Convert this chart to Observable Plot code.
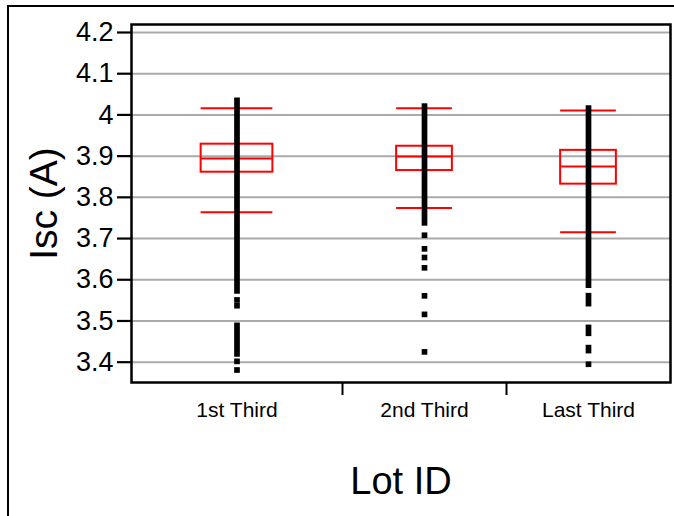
<!DOCTYPE html>
<html><head><meta charset="utf-8">
<script src="https://cdn.jsdelivr.net/npm/d3@7"></script>
<script src="https://cdn.jsdelivr.net/npm/@observablehq/plot@0.6"></script>
<style>
html,body{margin:0;padding:0;background:#fff;overflow:hidden;width:674px;height:516px;}
#outer{position:absolute;left:7px;top:5px;width:800px;height:700px;border-left:2.5px solid #000;border-top:2.5px solid #000;}
#chart{position:absolute;left:0;top:0;}
</style></head><body>
<div id="outer"></div><div id="chart"></div>
<script>
// Categories and proportional group widths (JMP "X axis proportional")
const groups = ["1st Third", "2nd Third", "Last Third"];
const groupWidths = [211, 164, 164];
// Box plot statistics per group
const whiskerHigh = [4.016, 4.016, 4.011];
const q3 = [3.929, 3.924, 3.914];
const median = [3.894, 3.899, 3.875];
const q1 = [3.861, 3.865, 3.832];
const whiskerLow = [3.764, 3.774, 3.715];
// Runs of densely overlapping points (top and bottom of each solid run)
const denseGroup = [0, 0, 1, 2, 2, 2, 2];
const denseTop = [4.041, 3.495, 4.027, 4.022, 3.567, 3.490, 3.441];
const denseBottom = [3.565, 3.412, 3.730, 3.579, 3.534, 3.462, 3.420];
// Isolated points
const pointGroup = [0, 0, 0, 0, 1, 1, 1, 1, 1, 1, 1, 2];
const pointValue = [3.551, 3.537, 3.402, 3.381, 3.708, 3.675, 3.654, 3.629, 3.561, 3.516, 3.425, 3.395];
// Axis ticks
const yTicks = [3.4, 3.5, 3.6, 3.7, 3.8, 3.9, 4.0, 4.1, 4.2];
const yDomain = [3.3507, 4.2194];

const starts = [];
let acc = 0;
for (const w of groupWidths) { starts.push(acc); acc += w; }
const total = acc;
const centers = groupWidths.map((w, i) => starts[i] + w / 2);
const bounds = starts.slice(1);
const boxFrac = 0.34;

const boxes = groups.map((g, i) => ({
  name: g,
  cx: centers[i],
  x1: centers[i] - groupWidths[i] * boxFrac / 2,
  x2: centers[i] + groupWidths[i] * boxFrac / 2,
  hi: whiskerHigh[i], q3: q3[i], med: median[i], q1: q1[i], lo: whiskerLow[i]
}));
const dense = denseGroup.map((g, i) => ({cx: centers[g], top: denseTop[i], bottom: denseBottom[i]}));
const points = pointGroup.map((g, i) => ({cx: centers[g], v: pointValue[i]}));

const red = "#ff0000";
const plot = Plot.plot({
  width: 674, height: 516,
  marginLeft: 131, marginRight: 4, marginTop: 24, marginBottom: 134,
  style: {fontFamily: "'Liberation Sans', Arial, sans-serif", background: "transparent", color: "#000"},
  x: {domain: [0, total], axis: null},
  y: {domain: yDomain, axis: null},
  marks: [
    Plot.ruleY(yTicks, {stroke: "#aaaaaa", strokeWidth: 2}),
    Plot.rect(boxes, {x1: "x1", x2: "x2", y1: "q1", y2: "q3", fill: "none", stroke: red, strokeWidth: 2}),
    Plot.ruleY(boxes, {y: "med", x1: "x1", x2: "x2", stroke: red, strokeWidth: 2}),
    Plot.ruleY(boxes, {y: "hi", x1: "x1", x2: "x2", stroke: red, strokeWidth: 2}),
    Plot.ruleY(boxes, {y: "lo", x1: "x1", x2: "x2", stroke: red, strokeWidth: 2}),
    Plot.ruleX(dense, {x: "cx", y1: "top", y2: "bottom", stroke: "#000", strokeWidth: 5.7}),
    Plot.dot(points, {x: "cx", y: "v", symbol: "square", r: 3.2, fill: "#000", stroke: "none"}),
    Plot.frame({stroke: "#000", strokeWidth: 2.5}),
    Plot.axisY({ticks: yTicks, tickSize: 14, tickPadding: 4, fontSize: 27, tickFormat: d3.format("~g"), label: null, strokeWidth: 2.2}),
    Plot.axisX({ticks: bounds, tickSize: 13, tickFormat: () => "", label: null, strokeWidth: 2}),
    Plot.text(boxes, {x: "cx", text: "name", frameAnchor: "bottom", lineAnchor: "middle", dy: 28, fontSize: 21}),
    Plot.text(["Lot ID"], {text: d => d, frameAnchor: "bottom", lineAnchor: "middle", textAnchor: "middle", dy: 99.5, fontSize: 38}),
    Plot.text(["Isc (A)"], {text: d => d, frameAnchor: "left", lineAnchor: "middle", textAnchor: "middle", dx: -87, rotate: -90, fontSize: 39})
  ]
});
document.getElementById("chart").appendChild(plot);
</script>
</body></html>
